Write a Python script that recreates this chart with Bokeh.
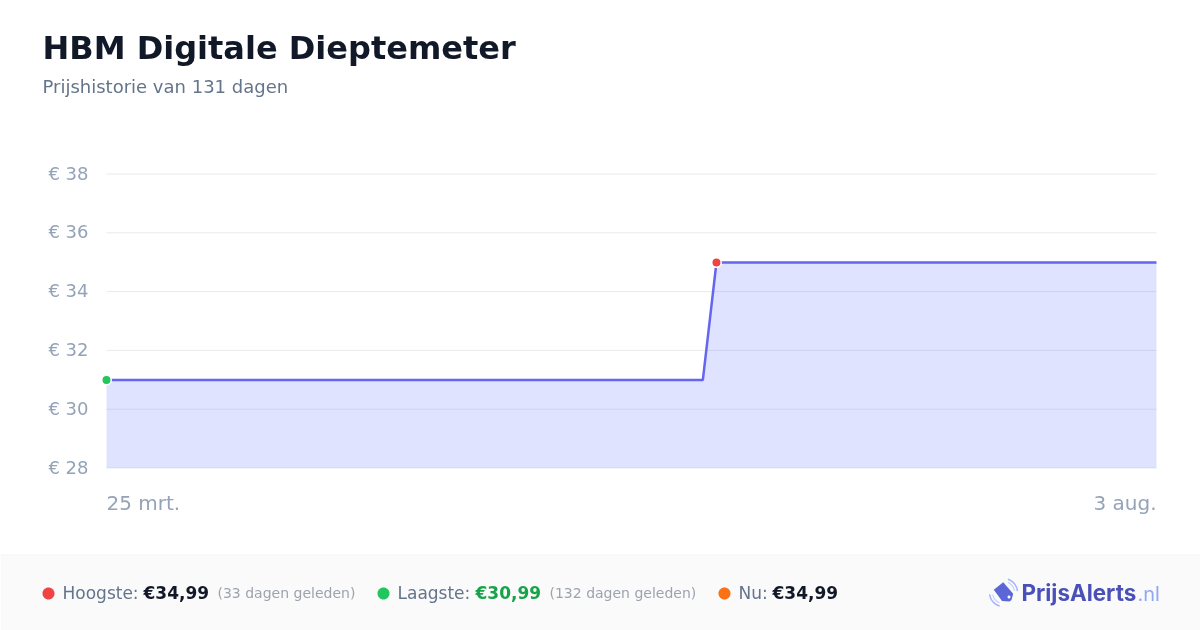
import math
from bokeh.plotting import figure
from bokeh.models import Range1d, Label, PolyAnnotation
from bokeh.embed import file_html
from bokeh.resources import INLINE

TITLE = "HBM Digitale Dieptemeter"
SUBTITLE = "Prijshistorie van 131 dagen"
days = [0, 74.4, 76.1, 131]
prices = [30.99, 30.99, 34.99, 34.99]
y_ticks = [28, 30, 32, 34, 36, 38]
x_labels = ["25 mrt.", "3 aug."]
low_idx, high_idx = 0, 2

FONT = "DejaVu Sans"
W, H = 1200, 630
PXD = 1050 / 131
PXP = 29.4
LEFT, TOP = 106, 173.5

# The frame fills the whole canvas, since annotations outside it are clipped.
p = figure(width=W, height=H, output_backend="svg", toolbar_location=None,
           x_range=Range1d(-LEFT / PXD, (W - LEFT) / PXD),
           y_range=Range1d(38 - (H - TOP) / PXP, 38 + TOP / PXP),
           min_border=0, x_axis_type=None, y_axis_type=None,
           background_fill_color="white", border_fill_color="white")
p.styles = {"position": "fixed", "left": "0", "top": "0"}
p.outline_line_color = None
p.xgrid.visible = False
p.ygrid.visible = False

p.segment(x0=[days[0]] * len(y_ticks), x1=[days[-1]] * len(y_ticks), y0=y_ticks, y1=y_ticks,
          line_color="#e8eaee", line_width=1)
p.varea(x=days, y1=[y_ticks[0]] * len(days), y2=prices, fill_color="#6272ff", fill_alpha=0.195)
p.line(days, prices, line_color="#6366f1", line_width=2.5)
p.scatter([days[low_idx]], [prices[low_idx]], size=9.5, fill_color="#22c55e", line_color="white", line_width=1.5)
p.scatter([days[high_idx]], [prices[high_idx]], size=9.5, fill_color="#ef4444", line_color="white", line_width=1.5)

def text(x, y, s, size, color, weight="normal", align="left", font=FONT):
    # labels sit about 0.4 of the font size below the requested baseline, so lift them by that
    p.add_layout(Label(x=x, y=H - y + 0.4 * size, x_units="screen", y_units="screen", text=s, text_font=font,
                       text_font_size=f"{size}px", text_color=color, text_font_style=weight,
                       text_align=align, text_baseline="alphabetic"))

def poly(xs, ys, color):
    p.add_layout(PolyAnnotation(xs=list(xs), ys=[H - y for y in ys], xs_units="screen",
                                ys_units="screen", fill_color=color, fill_alpha=1, line_color=None,
                                line_alpha=0, editable=False))

def rect(l, t, r, b, color):
    poly([l, r, r, l], [t, t, b, b], color)

def dot(cx, cy, r, color):
    ang = [2 * math.pi * i / 32 for i in range(32)]
    poly([cx + r * math.cos(a) for a in ang], [cy + r * math.sin(a) for a in ang], color)

def arc(cx, cy, r, a0, a1, w, color):
    n = 12
    ang = [a0 + (a1 - a0) * i / n for i in range(n + 1)]
    xs = [cx + (r + w / 2) * math.cos(a) for a in ang] + [cx + (r - w / 2) * math.cos(a) for a in reversed(ang)]
    ys = [cy + (r + w / 2) * math.sin(a) for a in ang] + [cy + (r - w / 2) * math.sin(a) for a in reversed(ang)]
    poly(xs, ys, color)

# footer background first so text sits on top
rect(0, 555, W, H, "#fafafa")
rect(0, 554, W, 555, "#f3f4f6")

text(42, 60, TITLE, 32, "#111827", "bold")
text(42, 93, SUBTITLE, 18, "#64748b")

# value labels: placed on the chart's own y scale
for t in y_ticks:
    p.add_layout(Label(x=88, y=t, x_units="screen", y_units="data", y_offset=1, text=f"€ {t}",
                       text_font=FONT, text_font_size="18px", text_color="#94a3b8", text_align="right",
                       text_baseline="alphabetic"))

for lab, d, al in zip(x_labels, [days[0], days[-1]], ["left", "right"]):
    p.add_layout(Label(x=d, y=y_ticks[0], x_units="data", y_units="data", y_offset=-35, text=lab,
                       text_font=FONT, text_font_size="20px", text_color="#94a3b8", text_align=al,
                       text_baseline="alphabetic"))

dot(48, 593, 6, "#ef4444")
text(62, 599, "Hoogste:", 17, "#64748b")
text(143, 599, "€34,99", 17, "#111827", "bold")
text(217, 598, "(33 dagen geleden)", 14, "#9ca3af")
dot(383, 593, 6, "#22c55e")
text(397, 599, "Laagste:", 17, "#64748b")
text(475, 599, "€30,99", 17, "#16a34a", "bold")
text(549, 598, "(132 dagen geleden)", 14, "#9ca3af")
dot(724, 593, 6, "#f97316")
text(738, 599, "Nu:", 17, "#64748b")
text(772, 599, "€34,99", 17, "#111827", "bold")

# logo
arc(1003, 592, 14, -1.25, -0.1, 1.5, "#a5b4fc")
arc(1003, 592, 11, -1.15, -0.15, 1.2, "#c7d2fe")
arc(1003, 592, 14, 1.85, 3.0, 1.5, "#a5b4fc")
arc(1003, 592, 11, 1.95, 2.95, 1.2, "#c7d2fe")
poly([993.3, 1002.7, 1012.7, 1011, 1009, 1001.5], [589.3, 581.7, 593.3, 599.5, 601, 600.5], "#5b67d6")
dot(1008.5, 596.5, 1.5, "#ffffff")
text(1021, 601, "PrijsAlerts", 22.4, "#4a50b8", "bold", font="Inter")
text(1137, 601, ".nl", 20, "#8fa8f5", font="Inter")

open("out.html", "w").write(file_html(p, INLINE))
